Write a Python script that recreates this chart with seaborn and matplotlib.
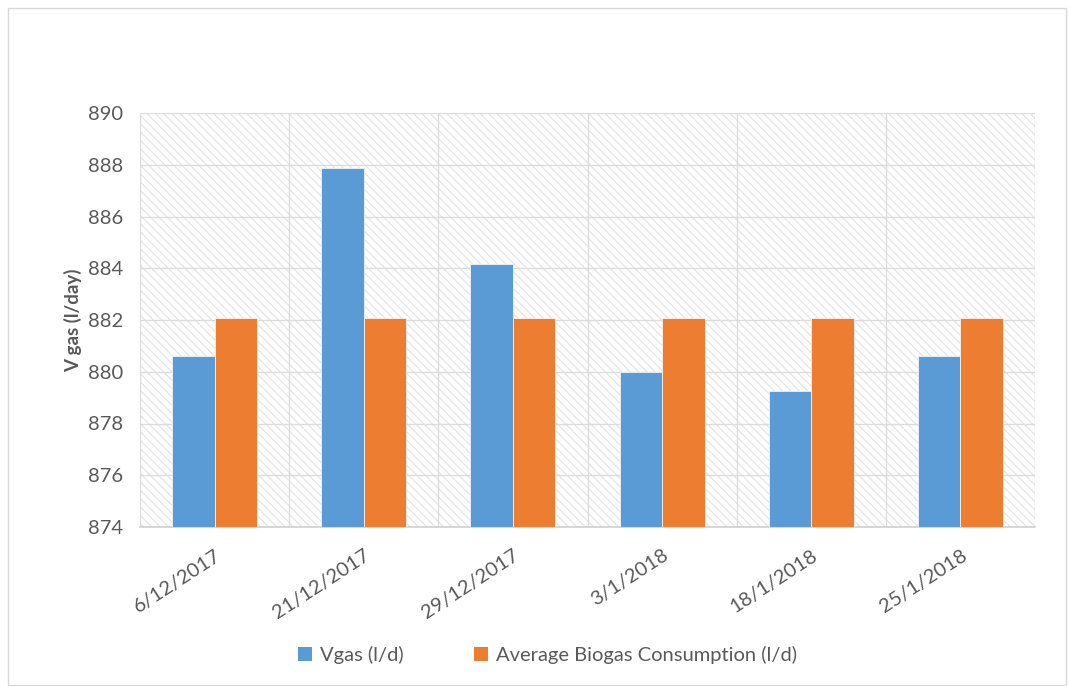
import matplotlib
matplotlib.use("Agg")
import matplotlib.pyplot as plt
import seaborn as sns
import pandas as pd
import numpy as np
from matplotlib.patches import Rectangle
from matplotlib.ticker import FixedLocator

dates = ["6/12/2017", "21/12/2017", "29/12/2017", "3/1/2018", "18/1/2018", "25/1/2018"]
vgas = [880.6, 887.87, 884.15, 880.0, 879.25, 880.6]
avg_consumption = [882.08, 882.08, 882.08, 882.08, 882.08, 882.08]
series_names = ["Vgas (l/d)", "Average Biogas Consumption (l/d)"]
colors = ["#5B9BD5", "#ED7D31"]

df = pd.DataFrame({
    "date": dates * 2,
    "value": vgas + avg_consumption,
    "series": [series_names[0]] * len(dates) + [series_names[1]] * len(dates),
})

sns.set_theme(style="white")
plt.rcParams['font.family'] = ['Lato', 'DejaVu Sans']
plt.rcParams['hatch.linewidth'] = 0.8

fig = plt.figure(figsize=(10.69, 6.86), dpi=100)
ax = fig.add_axes([140/1069, 1-527/686, (1035-140)/1069, (527-113)/686])

# figure frame
fig.patches.append(Rectangle((8/1069, 0.002), (1066-8)/1069, 1-8/686-0.002, transform=fig.transFigure,
                             fill=False, edgecolor="#d9d9d9", linewidth=1.0))

# hatched background
ax.add_patch(Rectangle((0, 0), 1, 1, transform=ax.transAxes, facecolor="white",
                       edgecolor="#e2e2e2", hatch=r"\\\\", linewidth=0, zorder=0))

sns.barplot(data=df, x="date", y="value", hue="series", palette=colors,
            width=0.57, ax=ax, saturation=1, zorder=3, gap=0,
            edgecolor="#f2f2f2", linewidth=0.6)

ax.set_ylim(874, 890)
ax.set_yticks(np.arange(874, 891, 2))
ax.set_xlim(-0.5, len(dates) - 0.5)
ax.xaxis.set_minor_locator(FixedLocator(np.arange(-0.5, len(dates), 1.0)))
ax.grid(True, axis="y", which="major", color="#dcdcdc", linewidth=1.0, zorder=1)
ax.grid(True, axis="x", which="minor", color="#dcdcdc", linewidth=1.0, zorder=1)
ax.grid(False, axis="x", which="major")
ax.set_axisbelow(True)

for s in ["top", "right", "left"]:
    ax.spines[s].set_visible(False)
ax.spines["bottom"].set_color("#d0d0d0")
ax.spines["bottom"].set_linewidth(1.2)

ax.tick_params(axis="both", which="both", length=0, colors="#595959", labelsize=14.5)
ax.tick_params(axis="y", pad=12)
ax.set_xticks(range(len(dates)))
ax.set_xticklabels(dates, rotation=33, ha="right", rotation_mode="anchor")
ax.tick_params(axis="x", pad=14)

ax.set_xlabel("")
ax.set_ylabel("V gas (l/day)", fontsize=13.5, fontweight="bold", color="#595959", labelpad=4)

leg = ax.legend(loc="center", bbox_to_anchor=(0.455, -0.31), ncol=2, frameon=False,
                fontsize=14.5, handlelength=0.7, handleheight=0.7, columnspacing=3.5,
                handletextpad=0.4, labelcolor="#595959")
for h in leg.legend_handles:
    h.set_edgecolor("none")

fig.savefig("out.png", dpi=100)
